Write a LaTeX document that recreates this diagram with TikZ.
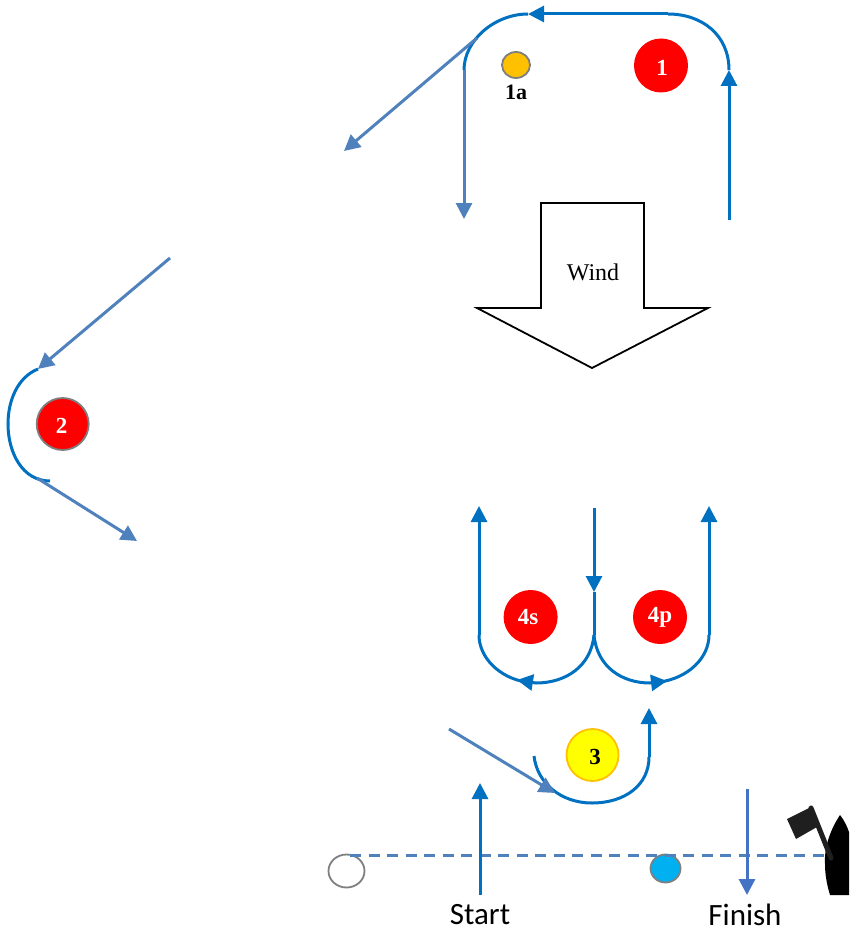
\documentclass[tikz,border=0pt]{standalone}
\usepackage{fontspec}
\setmainfont{Liberation Serif}
\newfontfamily\labelfont[Ligatures=NoCommon]{Carlito}
\usetikzlibrary{arrows.meta,shapes.geometric}
\definecolor{curve}{HTML}{0070C0}
\definecolor{steel}{HTML}{4F81BD}
\definecolor{royal}{HTML}{4472C4}
\definecolor{markgray}{HTML}{7F7F7F}
\definecolor{amber}{HTML}{FFC000}
\definecolor{cyanbuoy}{HTML}{00B0F0}
\definecolor{pureyellow}{HTML}{FFFF00}
\definecolor{purered}{HTML}{FF0000}
\tikzset{
  x=1pt,y=-1pt,
  tipped/.style={-{Triangle[length=16pt,width=16pt]}},
  course/.style={draw=curve,line width=3pt},
  leg/.style={draw=steel,line width=3pt},
  finishleg/.style={draw=royal,line width=3pt},
  marktext/.style={font=\fontsize{23}{23}\selectfont\bfseries,inner sep=0pt},
  roundmark/.style={circle,inner sep=0pt,minimum size=#1},
  redmark/.style={roundmark=54pt,fill=purered},
  lbl/.style={font=\labelfont\fontsize{31}{31}\selectfont,inner sep=0pt},
}
\begin{document}
\begin{tikzpicture}
\useasboundingbox (0,0) rectangle (849,931);
% marks
\node[redmark,label={[marktext,text=white,xshift=1pt,yshift=-2pt]center:1}] (m1) at (661,65.5) {};
\node[ellipse,inner sep=0pt,minimum width=28pt,minimum height=26pt,fill=amber,draw=markgray,line width=1.8pt] (m1a) at (516,65) {};
\node[marktext,font=\fontsize{22}{22}\selectfont\bfseries] (t1a) at (516,92) {1a};
\node[roundmark=52pt,fill=purered,draw=markgray,line width=1.8pt,label={[marktext,text=white,xshift=-1pt,yshift=-2pt]center:2}] (m2) at (62.7,424) {};
\node[redmark,label={[marktext,text=white,xshift=-2.5pt]center:4s}] (m4s) at (530.6,617) {};
\node[redmark,label={[marktext,text=white]center:4p}] (m4p) at (660,617) {};
\node[roundmark=52pt,fill=pureyellow,draw=amber,line width=1.8pt,label={[marktext,text=black,xshift=2.5pt,yshift=-2pt]center:3}] (m3) at (592.5,755) {};
\node[ellipse,inner sep=0pt,minimum width=36pt,minimum height=33pt,fill=white,draw=markgray,line width=1.8pt] (pin) at (346.5,871) {};
\node[ellipse,inner sep=0pt,minimum width=30pt,minimum height=28pt,fill=cyanbuoy,draw=markgray,line width=1.8pt] (buoy) at (665.5,868.5) {};
% wind arrow
\draw[line width=1.8pt,fill=white,line join=miter] (541,203) -- (644,203) -- (644,308) -- (708,308) -- (592,368) -- (477,308) -- (541,308) -- cycle;
\node[font=\fontsize{24}{24}\selectfont,inner sep=0pt] (wind) at (593,272) {Wind};
% coordinates
\coordinate (a0) at (729,220);
\coordinate (a1) at (729,70);
\coordinate (a2) at (668,14);
\coordinate (a3) at (528,14);
\coordinate (a4) at (464,70);
\coordinate (a5) at (464,219);
\coordinate (b0) at (477,38);
\coordinate (b1) at (344,151);
\coordinate (c0) at (170,258);
\coordinate (c1) at (38,369);
\coordinate (c2) at (50,481);
\coordinate (c3) at (37,478);
\coordinate (c4) at (137,541);
\coordinate (d0) at (594,508);
\coordinate (d1) at (594,592);
\coordinate (d2) at (594,635);
\coordinate (d3) at (517,680);
\coordinate (d4) at (667,681);
\coordinate (d5) at (479,635);
\coordinate (d6) at (479,506);
\coordinate (d7) at (709,635);
\coordinate (d8) at (709,506);
\coordinate (e0) at (534,756);
\coordinate (e1) at (649,757);
\coordinate (e2) at (649,708);
\coordinate (e3) at (449,729);
\coordinate (e4) at (555,793);
\coordinate (s0) at (480,895);
\coordinate (s1) at (480,783);
\coordinate (f0) at (747,789);
\coordinate (f1) at (747,895);
\coordinate (l0) at (350,855);
\coordinate (l1) at (826,855);
% mark 1 course
\draw[course,tipped] (a0) -- (a1);
\draw[course] (a1) .. controls (729,35) and (702,14) .. (a2);
\draw[course,tipped] (a2) -- (a3);
\draw[course] (a3) .. controls (495,14) and (464,40) .. (a4);
\draw[leg,tipped] (a4) -- (a5);
\draw[leg,tipped] (b0) -- (b1);
% mark 2 course
\draw[leg,tipped] (c0) -- (c1);
\draw[course] (c1) .. controls (18,377) and (8,400) .. (8,424) .. controls (8,452) and (22,481) .. (c2);
\draw[leg,tipped] (c3) -- (c4);
% gate
\draw[course,tipped] (d0) -- (d1);
\draw[course] (d1) -- (d2);
\draw[course,tipped] (d2) .. controls (591,667) and (565,683) .. (536,683) -- (d3);
\draw[course] (526,682) .. controls (500,678) and (479,658) .. (d5);
\draw[course,tipped] (d5) -- (d6);
\draw[course,tipped] (d2) .. controls (597,667) and (622,683) .. (650,683) -- (d4);
\draw[course] (660,682) .. controls (688,678) and (709,658) .. (d7);
\draw[course,tipped] (d7) -- (d8);
% mark 3 course
\draw[course] (e0) .. controls (537,783) and (561,803) .. (592,803) .. controls (625,803) and (649,785) .. (e1);
\draw[course,tipped] (e1) -- (e2);
\draw[leg,tipped] (e3) -- (e4);
% start / finish
\draw[leg,dash pattern=on 11pt off 7.5pt] (l0) -- (l1);
\draw[course,tipped] (s0) -- (s1);
\draw[finishleg,tipped] (f0) -- (f1);
\node[lbl] (start) at (480,915) {Start};
\node[lbl] (finish) at (745,915) {Finish};
% boat
\fill[black] (840,815) .. controls (830,830) and (824,848) .. (825,864) .. controls (825,875) and (827,885) .. (830,895) -- (849,895) -- (849,832) .. controls (847,826) and (844,820) .. (840,815) -- cycle;
\fill[black!88] (787,819) -- (811,807) -- (817,827) -- (796,839) -- cycle;
\draw[black!88,line width=5pt,line cap=round] (811,808) -- (831,858);
\end{tikzpicture}
\end{document}
